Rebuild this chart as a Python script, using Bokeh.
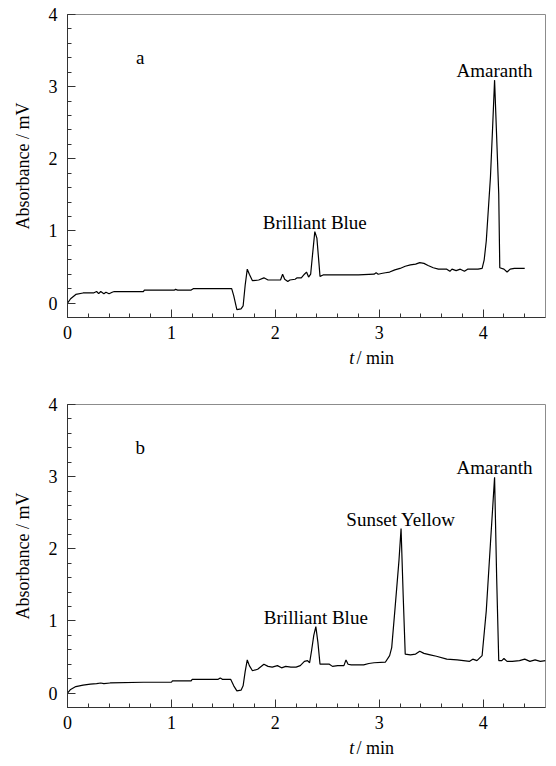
import numpy as np
from bokeh.plotting import figure
from bokeh.layouts import column
from bokeh.models import Range1d, FixedTicker, Label
from bokeh.core.properties import value
from bokeh.embed import file_html
from bokeh.resources import INLINE

# ---- data: panel a ----
t_a = [0.00, 0.03, 0.08, 0.15, 0.25, 0.28, 0.30, 0.32, 0.35, 0.37, 0.40, 0.43, 0.45, 0.73, 0.74,
       1.03, 1.04, 1.06, 1.19, 1.21, 1.58, 1.60, 1.63, 1.67, 1.69, 1.71, 1.73, 1.75, 1.78, 1.84,
       1.89, 1.93, 2.05, 2.07, 2.09, 2.12, 2.14, 2.19, 2.21, 2.25, 2.28, 2.30, 2.32, 2.34, 2.36,
       2.38, 2.40, 2.42, 2.43, 2.46, 2.60, 2.80, 2.95, 2.97, 2.99, 3.02, 3.06, 3.10, 3.15, 3.20,
       3.25, 3.30, 3.35, 3.39, 3.43, 3.47, 3.52, 3.57, 3.65, 3.68, 3.70, 3.74, 3.78, 3.82, 3.85,
       3.95, 3.99, 4.01, 4.03, 4.05, 4.07, 4.09, 4.11, 4.13, 4.15, 4.16, 4.20, 4.23, 4.26, 4.30, 4.40]
v_a = [0.00, 0.06, 0.12, 0.14, 0.14, 0.16, 0.13, 0.16, 0.13, 0.15, 0.13, 0.15, 0.16, 0.16, 0.18,
       0.18, 0.19, 0.18, 0.18, 0.20, 0.20, 0.10, -0.09, -0.08, -0.04, 0.25, 0.47, 0.40, 0.31, 0.32,
       0.35, 0.32, 0.32, 0.40, 0.33, 0.30, 0.32, 0.33, 0.35, 0.35, 0.40, 0.43, 0.36, 0.40, 0.70,
       0.99, 0.90, 0.55, 0.37, 0.39, 0.39, 0.39, 0.40, 0.42, 0.40, 0.41, 0.42, 0.43, 0.46, 0.48,
       0.51, 0.53, 0.54, 0.56, 0.55, 0.52, 0.49, 0.47, 0.47, 0.44, 0.47, 0.45, 0.47, 0.44, 0.47,
       0.47, 0.48, 0.60, 0.86, 1.30, 1.74, 2.40, 3.09, 2.30, 1.51, 0.49, 0.47, 0.43, 0.47, 0.48, 0.48]
peaks_a_names = ["Brilliant Blue", "Amaranth"]
peaks_a_rt = [2.38, 4.11]

# ---- data: panel b ----
t_b = [0.00, 0.03, 0.08, 0.15, 0.22, 0.28, 0.32, 0.35, 0.41, 0.73, 1.00, 1.01, 1.19, 1.20, 1.45,
       1.47, 1.49, 1.57, 1.60, 1.63, 1.67, 1.69, 1.71, 1.73, 1.75, 1.78, 1.83, 1.89, 1.93, 1.97,
       2.02, 2.06, 2.10, 2.15, 2.20, 2.24, 2.28, 2.31, 2.33, 2.35, 2.37, 2.39, 2.41, 2.43, 2.48,
       2.52, 2.55, 2.60, 2.66, 2.68, 2.70, 2.73, 2.78, 2.85, 2.90, 2.95, 3.06, 3.10, 3.12, 3.15,
       3.19, 3.21, 3.23, 3.25, 3.30, 3.35, 3.39, 3.43, 3.49, 3.55, 3.65, 3.75, 3.81, 3.87, 3.90,
       3.94, 3.99, 4.03, 4.07, 4.11, 4.13, 4.15, 4.18, 4.20, 4.23, 4.28, 4.35, 4.40, 4.45, 4.50,
       4.55, 4.60]
v_b = [0.00, 0.05, 0.09, 0.11, 0.125, 0.13, 0.14, 0.13, 0.14, 0.15, 0.15, 0.17, 0.17, 0.19, 0.19,
       0.21, 0.19, 0.19, 0.10, 0.03, 0.04, 0.10, 0.30, 0.46, 0.38, 0.31, 0.33, 0.40, 0.37, 0.36,
       0.38, 0.35, 0.37, 0.36, 0.36, 0.38, 0.44, 0.45, 0.42, 0.60, 0.80, 0.92, 0.70, 0.40, 0.40,
       0.40, 0.37, 0.38, 0.38, 0.46, 0.40, 0.39, 0.39, 0.39, 0.41, 0.42, 0.43, 0.52, 0.63, 1.14,
       1.84, 2.28, 1.37, 0.54, 0.53, 0.54, 0.58, 0.55, 0.53, 0.51, 0.47, 0.46, 0.45, 0.44, 0.47,
       0.45, 0.52, 1.14, 2.07, 2.99, 1.60, 0.45, 0.45, 0.48, 0.44, 0.44, 0.45, 0.47, 0.44, 0.46,
       0.44, 0.45]
peaks_b_names = ["Brilliant Blue", "Sunset Yellow", "Amaranth"]
peaks_b_rt = [2.39, 3.21, 4.11]

x_ticks = [0, 1, 2, 3, 4]
y_ticks = [0, 1, 2, 3, 4]
x_minor = [round(0.2 * i, 1) for i in range(0, 23) if 0.2 * i <= 4.41]
y_minor = [round(-0.2 + 0.2 * i, 1) for i in range(0, 22)]
x_title_parts = ["t", "/ min"]

FONT = "Liberation Serif"
W = 550
LEFT = 67
RIGHT = 5


def make_panel(t, v, letter, names, rts, top, bottom):
    p = figure(width=W, height=top + 303 + bottom, output_backend="svg", toolbar_location=None,
               x_range=Range1d(0, 4.6), y_range=Range1d(-0.2, 4.0),
               min_border_left=LEFT, min_border_right=RIGHT, min_border_top=top,
               min_border_bottom=bottom)
    p.grid.visible = False
    p.outline_line_color = "#8c8c8c"
    p.outline_line_width = 1

    p.line(t, v, line_color="black", line_width=1.2)

    for ax in (p.xaxis[0], p.yaxis[0]):
        ax.axis_line_color = "#333333"
        ax.major_tick_line_color = "#333333"
        ax.minor_tick_line_color = "#333333"
        ax.major_tick_in = 8
        ax.major_tick_out = 0
        ax.minor_tick_in = 4
        ax.minor_tick_out = 0
        ax.major_label_text_font = FONT
        ax.major_label_text_font_size = "18px"
        ax.major_label_text_color = "black"
    p.xaxis[0].major_label_standoff = 8
    p.yaxis[0].major_label_standoff = 10
    p.xaxis[0].ticker = FixedTicker(ticks=x_ticks, minor_ticks=x_minor)
    p.yaxis[0].ticker = FixedTicker(ticks=y_ticks, minor_ticks=y_minor)

    p.yaxis[0].axis_label = "Absorbance / mV"
    p.yaxis[0].axis_label_text_font = FONT
    p.yaxis[0].axis_label_text_font_style = "normal"
    p.yaxis[0].axis_label_text_font_size = "18px"
    p.yaxis[0].axis_label_text_color = "black"
    p.yaxis[0].axis_label_standoff = 13

    # panel letter
    p.add_layout(Label(x=0.70, y=3.40, text=letter, text_align="center", text_baseline="middle",
                       text_font=FONT, text_font_size="19px", text_color="black"))

    ta = np.array(t)
    va = np.array(v)
    for name, rt in zip(names, rts):
        m = np.abs(ta - rt) <= 0.05
        i = np.argmax(np.where(m, va, -1e9))
        p.add_layout(Label(x=ta[i], y=va[i] + 0.13, text=name, text_align="center",
                           text_baseline="alphabetic", text_font=FONT, text_font_size="19px",
                           text_color="black"))
    return p


def make_xtitle(x_range, height, ymid):
    s = figure(width=W, height=height, output_backend="svg", toolbar_location=None,
               x_range=x_range, y_range=Range1d(0, 1), x_axis_type=None, y_axis_type=None,
               min_border_left=LEFT, min_border_right=RIGHT, min_border_top=0, min_border_bottom=0)
    s.grid.visible = False
    s.outline_line_color = None
    s.text(x=[2.76], y=[ymid], text=[x_title_parts[0]], text_align="right", text_baseline="middle",
           text_font=value(FONT), text_font_style="italic", text_font_size="18px", text_color="black")
    s.text(x=[2.78], y=[ymid], text=[x_title_parts[1]], text_align="left", text_baseline="middle",
           text_font=value(FONT), text_font_size="18px", text_color="black")
    return s


pa = make_panel(t_a, v_a, "a", peaks_a_names, peaks_a_rt, 14, 31)
sa = make_xtitle(pa.x_range, 20, 0.55)
pb = make_panel(t_b, v_b, "b", peaks_b_names, peaks_b_rt, 36, 31)
sb = make_xtitle(pb.x_range, 20, 0.55)

layout = column(pa, sa, pb, sb, spacing=0)
open("out.html", "w").write(file_html(layout, INLINE))
